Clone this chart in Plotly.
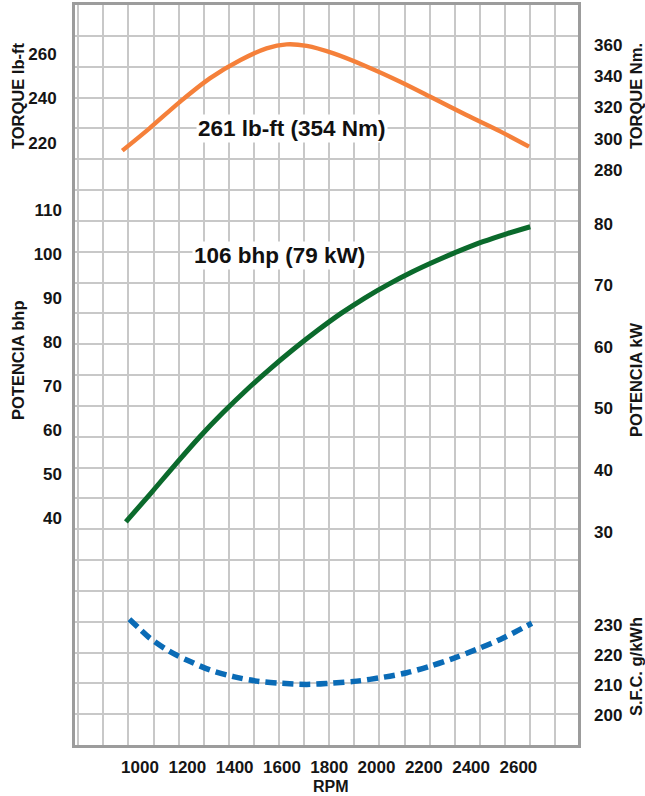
import plotly.graph_objects as go

# ---------------- data ----------------
torque_rpm = [925, 1040, 1170, 1295, 1425, 1535, 1620, 1705, 1815, 1960, 2100, 2240, 2380, 2525, 2645]
torque_lbft = [216.4, 226.5, 238.6, 249.1, 257.4, 262.7, 264.5, 263.8, 260.5, 254.4, 247.6, 240.1, 232.5, 225.0, 218.2]

power_rpm = [940, 1050, 1150, 1250, 1350, 1450, 1550, 1650, 1750, 1850, 1950, 2050, 2150, 2250, 2350, 2450, 2550, 2650]
power_bhp = [39.2, 46.0, 52.3, 58.4, 64.0, 69.2, 74.0, 78.5, 82.7, 86.6, 90.1, 93.2, 96.0, 98.5, 100.8, 102.9, 104.7, 106.3]

sfc_rpm = [955, 1000, 1042, 1127, 1212, 1296, 1395, 1494, 1592, 1705, 1804, 1917, 2029, 2128, 2227, 2325, 2424, 2523, 2657]
sfc_gkwh = [231.9, 228.6, 225.6, 221.1, 217.8, 215.0, 212.8, 211.3, 210.6, 210.2, 210.6, 211.3, 212.6, 214.1, 216.3, 218.9, 221.9, 225.2, 230.6]

rpm_ticks = [1000, 1200, 1400, 1600, 1800, 2000, 2200, 2400, 2600]
lbft_ticks = [220, 240, 260]
bhp_ticks = [40, 50, 60, 70, 80, 90, 100, 110]
nm_ticks = [280, 300, 320, 340, 360]
kw_ticks = [30, 40, 50, 60, 70, 80]
sfc_ticks = [200, 210, 220, 230]

torque_label = "261 lb-ft (354 Nm)"
power_label = "106 bhp (79 kW)"

# ---------------- layout geometry ----------------
W, H = 645, 796
ML, MR, MT, MB = 75, 67, 5, 51
PW, PH = W - ML - MR, H - MT - MB

FONT = "Liberation Sans, Arial, sans-serif"
TXT = "#151515"
GRID = "#c8c8c8"
BORDER = "#9c9c9c"

def px_x(px):
    return (px - ML) / PW

def px_y(py):
    return (H - MB - py) / PH

fig = go.Figure()

fig.add_trace(go.Scatter(x=torque_rpm, y=torque_lbft, mode="lines", yaxis="y",
                         line=dict(color="#f5803a", width=4.4, shape="spline", smoothing=0.9),
                         hoverinfo="skip", showlegend=False))
fig.add_trace(go.Scatter(x=power_rpm, y=power_bhp, mode="lines", yaxis="y2",
                         line=dict(color="#0b6a2c", width=5, shape="spline", smoothing=0.9),
                         hoverinfo="skip", showlegend=False))
fig.add_trace(go.Scatter(x=sfc_rpm, y=sfc_gkwh, mode="lines", yaxis="y5",
                         line=dict(color="#0a6bb6", width=5.5, shape="spline", smoothing=0.9,
                                   dash="11px,6px"),
                         hoverinfo="skip", showlegend=False))
# empty traces so that every axis is drawn
for ya in ["y3", "y4"]:
    fig.add_trace(go.Scatter(x=[None], y=[None], yaxis=ya, hoverinfo="skip", showlegend=False))
fig.add_trace(go.Scatter(x=[None], y=[None], xaxis="x2", yaxis="y6",
                         hoverinfo="skip", showlegend=False))

tickfont = dict(family=FONT, size=17, color=TXT, weight="bold")

common_y = dict(showgrid=False, zeroline=False, ticks="", automargin=False,
                tickfont=tickfont, showline=False)

fig.update_layout(
    width=W, height=H, template="none",
    paper_bgcolor="white", plot_bgcolor="white",
    margin=dict(l=ML, r=MR, t=MT, b=MB, pad=0), autosize=False,
    xaxis=dict(range=[725, 2852], tickvals=rpm_ticks, showgrid=False, zeroline=False,
               ticks="", tickfont=tickfont, automargin=False, ticklabelstandoff=5,
               tickangle=0,
               showline=True, mirror=True, linecolor=BORDER, linewidth=3),
    yaxis=dict(range=[-52.5, 282.3], tickvals=lbft_ticks, side="left",
               ticklabelstandoff=12, **{k: v for k, v in common_y.items() if k != "showline"},
               showline=True, mirror=True, linecolor=BORDER, linewidth=3),
    yaxis2=dict(range=[-11.5, 156.7], tickvals=bhp_ticks, side="left", overlaying="y",
                ticklabelstandoff=12, **common_y),
    yaxis3=dict(range=[-88, 385.6], tickvals=nm_ticks, side="right", overlaying="y",
                anchor="x", ticklabelstandoff=15, **common_y),
    yaxis4=dict(range=[-4.7, 115.6], tickvals=kw_ticks, side="right", overlaying="y",
                anchor="x", ticklabelstandoff=15, **common_y),
    yaxis5=dict(range=[190, 436.7], tickvals=sfc_ticks, side="right", overlaying="y",
                anchor="x", ticklabelstandoff=15, **common_y),
    xaxis2=dict(range=[-1.127, 18.91], dtick=1, tick0=0, showgrid=True, gridcolor=GRID,
                gridwidth=1.5, showticklabels=False, ticks="", zeroline=False,
                overlaying="x", anchor="y6", automargin=False),
    yaxis6=dict(range=[0, 24], dtick=1, tick0=0, showgrid=True, gridcolor=GRID,
                gridwidth=1.5, showticklabels=False, ticks="", zeroline=False,
                overlaying="y", anchor="x2", automargin=False),
)

title_font = dict(family=FONT, size=16.5, color=TXT, weight="bold")
titles = [
    ("TORQUE lb-ft", 18, 96),
    ("POTENCIA bhp", 18, 361),
    ("TORQUE Nm.", 636, 96),
    ("POTENCIA kW", 636, 380),
    ("S.F.C. g/kWh", 636, 667),
]
for text, px, py in titles:
    fig.add_annotation(text=text, x=px_x(px), y=px_y(py), xref="paper", yref="paper",
                       textangle=-90, showarrow=False, font=title_font,
                       xanchor="center", yanchor="middle")

fig.add_annotation(text="RPM", x=px_x(331), y=px_y(796), xref="paper", yref="paper",
                   showarrow=False, font=dict(family=FONT, size=16, color=TXT, weight="bold"),
                   xanchor="center", yanchor="bottom", borderpad=0)

label_font = dict(family=FONT, size=22.5, color="#111111", weight="bold")
fig.add_annotation(text=torque_label, x=1642, y=226.5, xref="x", yref="y",
                   showarrow=False, font=label_font, bgcolor="white", borderpad=1,
                   xanchor="center", yanchor="middle")
fig.add_annotation(text=power_label, x=1591, y=99.8, xref="x", yref="y2",
                   showarrow=False, font=label_font, bgcolor="white", borderpad=1,
                   xanchor="center", yanchor="middle")

fig.write_html("out.html", config={"displayModeBar": False},
               post_script="document.body.style.margin='0px';")
